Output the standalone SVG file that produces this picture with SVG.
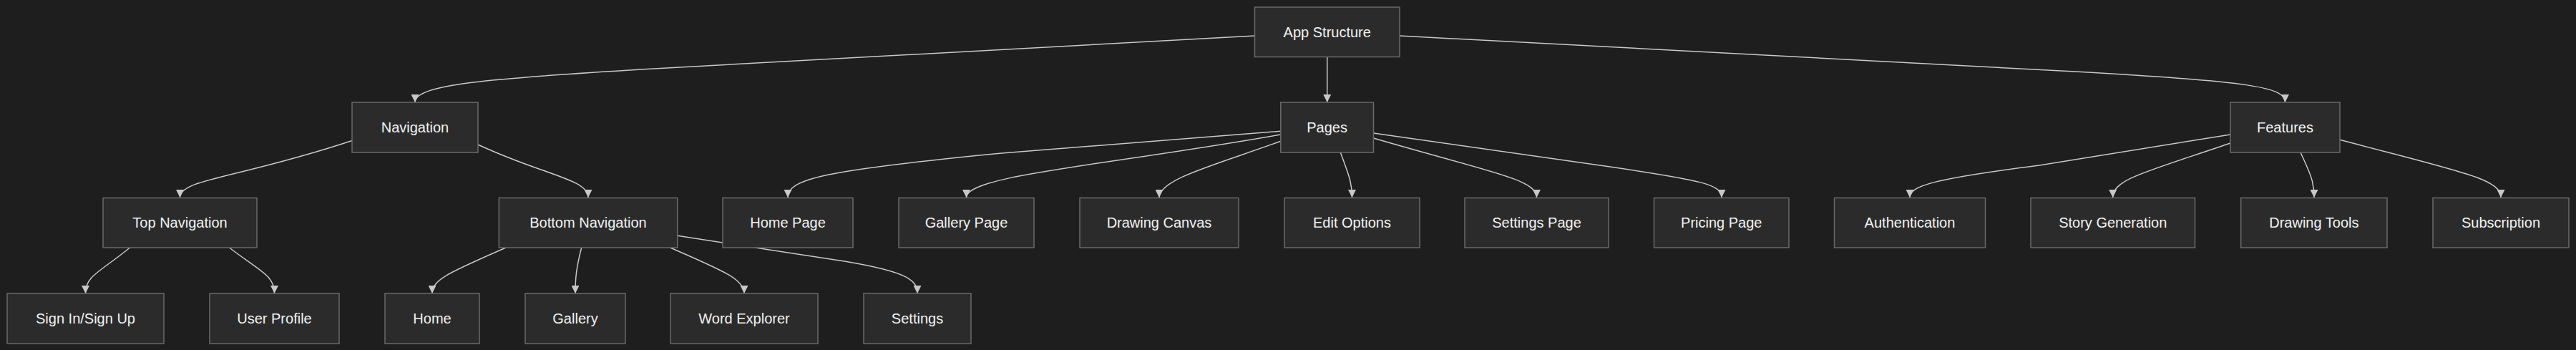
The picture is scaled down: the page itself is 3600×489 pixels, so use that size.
<svg xmlns="http://www.w3.org/2000/svg" width="3600" height="489" viewBox="0 0 3600 489">
<defs>
<marker id="arrow" viewBox="0 0 10 10" refX="10" refY="5" markerWidth="11" markerHeight="11" markerUnits="userSpaceOnUse" orient="auto">
<path d="M0,0 L10,5 L0,10 z" fill="#c8c8c8"/>
</marker>
<style>
.bg{fill:#1e1e1e}
.node rect{fill:#2b2b2b;stroke:#6a6a6a;stroke-width:1.5}
.node text{fill:#f2f2f2;font-family:"Liberation Sans",Arial,sans-serif;font-size:20px;text-anchor:middle;dominant-baseline:central}
.edges path{fill:none;stroke:#c8c8c8;stroke-width:1.5;marker-end:url(#arrow)}
</style>
</defs>
<rect class="bg" x="0" y="0" width="3600" height="489"/>
<g class="edges" id="connectors">
<path d="M1753.5,50 L900,96.7 C680,110 580,118 580,143"/>
<path d="M1854.75,79.5 L1854.75,143"/>
<path d="M1956,50 L2900,100 C3150,114 3193.5,122 3193.5,143"/>
<path d="M492,196.5 C330,250 251.5,250 251.5,276"/>
<path d="M668,202 C760,245 822,250 822,276"/>
<path d="M181.5,346 C140,380 119.5,385 119.5,410"/>
<path d="M320.5,346 C365,380 383.5,385 383.5,410"/>
<path d="M707,346 C630,380 604,390 604,410"/>
<path d="M812.7,346 C805,375 804,390 804,410"/>
<path d="M936.7,346 C1010,378 1040,390 1040,410"/>
<path d="M946.7,329.3 L1180,365 C1270,380 1282,392 1282,410"/>
<path d="M1789.8,183.3 L1400,214 C1150,238 1101,250 1101,276"/>
<path d="M1789.8,188 C1540,232 1350.5,245 1350.5,276"/>
<path d="M1789.8,197.3 C1700,230 1620,250 1620,276"/>
<path d="M1873.3,213 C1885,245 1889.5,255 1889.5,276"/>
<path d="M1919.5,193 C2080,240 2147.5,250 2147.5,276"/>
<path d="M1919.5,186 L2250,233 C2380,252 2406,258 2406,276"/>
<path d="M3117,188 L2850,231 C2700,250 2669,260 2669,276"/>
<path d="M3117,200 C3000,240 2952.7,250 2952.7,276"/>
<path d="M3215,213 C3230,245 3234,255 3234,276"/>
<path d="M3270,195.3 C3440,240 3495,250 3495,276"/>
</g>
<g class="node" id="app"><rect x="1753.5" y="10" width="202.5" height="69.5"/><text x="1854.75" y="44.75">App Structure</text></g>
<g class="node" id="navigation"><rect x="492" y="143" width="176" height="70"/><text x="580" y="178">Navigation</text></g>
<g class="node" id="pages"><rect x="1789.8" y="143" width="129.7" height="70"/><text x="1854.65" y="178">Pages</text></g>
<g class="node" id="features"><rect x="3117" y="143" width="153" height="70"/><text x="3193.5" y="178">Features</text></g>
<g class="node" id="topnav"><rect x="144" y="276.5" width="215" height="69.5"/><text x="251.5" y="311.25">Top Navigation</text></g>
<g class="node" id="bottomnav"><rect x="697.3" y="276.5" width="249.4" height="69.5"/><text x="822" y="311.25">Bottom Navigation</text></g>
<g class="node" id="homepage"><rect x="1010" y="276.5" width="182" height="69.5"/><text x="1101" y="311.25">Home Page</text></g>
<g class="node" id="gallerypage"><rect x="1256" y="276.5" width="189" height="69.5"/><text x="1350.5" y="311.25">Gallery Page</text></g>
<g class="node" id="drawingcanvas"><rect x="1509" y="276.5" width="222" height="69.5"/><text x="1620" y="311.25">Drawing Canvas</text></g>
<g class="node" id="editoptions"><rect x="1795" y="276.5" width="189" height="69.5"/><text x="1889.5" y="311.25">Edit Options</text></g>
<g class="node" id="settingspage"><rect x="2047" y="276.5" width="201" height="69.5"/><text x="2147.5" y="311.25">Settings Page</text></g>
<g class="node" id="pricingpage"><rect x="2311.5" y="276.5" width="188.5" height="69.5"/><text x="2405.75" y="311.25">Pricing Page</text></g>
<g class="node" id="authentication"><rect x="2563.5" y="276.5" width="211" height="69.5"/><text x="2669" y="311.25">Authentication</text></g>
<g class="node" id="storygen"><rect x="2838" y="276.5" width="229.5" height="69.5"/><text x="2952.75" y="311.25">Story Generation</text></g>
<g class="node" id="drawingtools"><rect x="3131.7" y="276.5" width="204.3" height="69.5"/><text x="3233.85" y="311.25">Drawing Tools</text></g>
<g class="node" id="subscription"><rect x="3400" y="276.5" width="190" height="69.5"/><text x="3495" y="311.25">Subscription</text></g>
<g class="node" id="signin"><rect x="10" y="410" width="219" height="70"/><text x="119.5" y="445">Sign In/Sign Up</text></g>
<g class="node" id="userprofile"><rect x="293" y="410" width="181" height="70"/><text x="383.5" y="445">User Profile</text></g>
<g class="node" id="home"><rect x="538" y="410" width="132" height="70"/><text x="604" y="445">Home</text></g>
<g class="node" id="gallery"><rect x="734" y="410" width="140" height="70"/><text x="804" y="445">Gallery</text></g>
<g class="node" id="wordexplorer"><rect x="937" y="410" width="206" height="70"/><text x="1040" y="445">Word Explorer</text></g>
<g class="node" id="settings"><rect x="1207" y="410" width="150" height="70"/><text x="1282" y="445">Settings</text></g>
</svg>
